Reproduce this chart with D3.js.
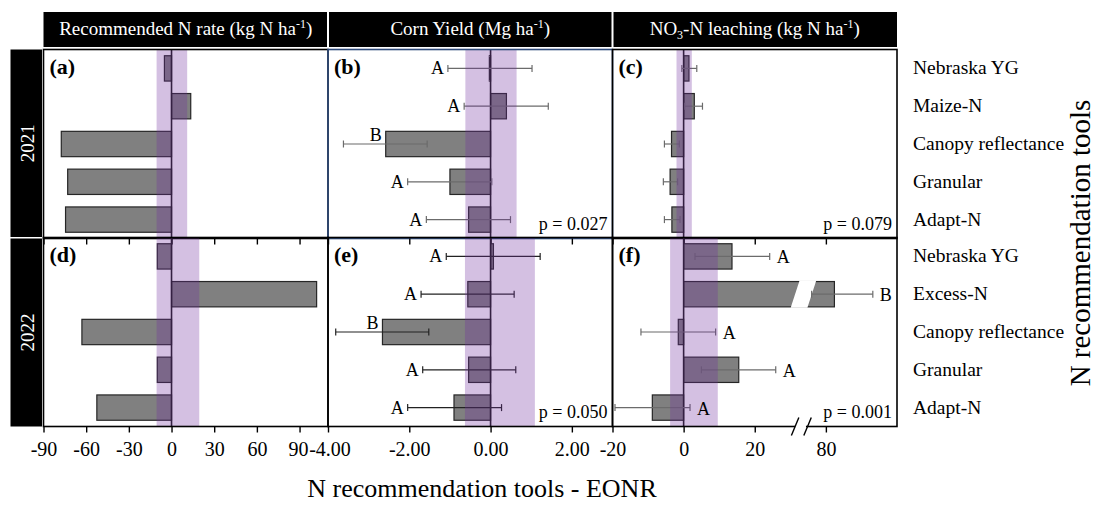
<!DOCTYPE html>
<html>
<head>
<meta charset="utf-8">
<title>N recommendation tools - EONR</title>
<script src="https://d3js.org/d3.v7.min.js"></script>
<style>
  body { margin: 0; background: #fff; }
  svg { font-family: "Liberation Serif", "Times New Roman", serif; }
</style>
</head>
<body>
<svg width="1101" height="508"></svg>
<script>
// categories
const tools2021 = ["Nebraska YG", "Maize-N", "Canopy reflectance", "Granular", "Adapt-N"];
const tools2022 = ["Nebraska YG", "Excess-N", "Canopy reflectance", "Granular", "Adapt-N"];

// recommended N rate - EONR (kg N/ha)
const rate2021 = [-5, 13.5, -77.5, -73, -74.5];
const rate2022 = [-10, 102, -63, -10, -52.5];
const rateBand2021 = [-10.5, 11];
const rateBand2022 = [-10.5, 19.5];

// corn yield difference (Mg/ha) with error bar ends
const yield2021 = [-0.03, 0.39, -2.58, -1.0, -0.54];
const yield2021Lo = [-1.05, -0.65, -3.62, -2.04, -1.58];
const yield2021Hi = [1.02, 1.42, -1.56, 0.03, 0.49];
const yield2022 = [0.07, -0.56, -2.66, -0.54, -0.9];
const yield2022Lo = [-1.09, -1.71, -3.81, -1.67, -2.04];
const yield2022Hi = [1.22, 0.58, -1.52, 0.62, 0.27];
const yieldBand2021 = [-0.62, 0.64];
const yieldBand2022 = [-0.63, 1.09];
const yieldLetters2021 = ["A", "A", "B", "A", "A"];
const yieldLetters2022 = ["A", "A", "B", "A", "A"];

// NO3-N leaching difference (kg N/ha)
const leach2021 = [1.5, 3, -3.4, -3.8, -3.3];
const leach2021Lo = [-0.5, 0.3, -5.4, -5.7, -5.4];
const leach2021Hi = [3.7, 5.3, -1.2, -1.7, -1.0];
const leach2022 = [13.6, 82.4, -1.5, 15.5, -8.8];
const leach2022Lo = [3.2, 76, -12, 5, -19.3];
const leach2022Hi = [24.2, 93.2, 9, 25.9, 1.8];
const leachBand2021 = [-2, 2.3];
const leachBand2022 = [-3.8, 9.6];
const leachLetters2022 = ["A", "B", "A", "A", "A"];

const pValues = { b: "p = 0.027", c: "p = 0.079", e: "p = 0.050", f: "p = 0.001" };

// tick labels
const rateTicks = [-90, -60, -30, 0, 30, 60, 90];
const yieldTicks = [-4, -2, 0, 2];
const leachTicks = [-20, 0, 20, 80];

const svg = d3.select("svg");

const colX = [43.5, 328, 612.5, 897];
const rowTop = [49.5, 237.5];
const rowH = 189;

// leaching axis is broken: values above 50 are moved down by 40
const brk = v => v > 50 ? v - 40 : v;

function makeScale(kind, c) {
  const range = [colX[c], colX[c + 1]];
  if (kind === "rate") return d3.scaleLinear().domain([-90, 110]).range(range);
  if (kind === "yield") return d3.scaleLinear().domain([-4, 3]).range(range);
  return d3.scaleLinear().domain([-20, 60]).range(range);
}

// header
svg.append("rect").attr("x", colX[0]).attr("y", 12).attr("width", colX[3] - colX[0]).attr("height", 35).attr("fill", "#000");
[colX[1], colX[2]].forEach(x => {
  svg.append("line").attr("x1", x).attr("x2", x).attr("y1", 12).attr("y2", 47).attr("stroke", "#fff").attr("stroke-width", 2);
});
const headers = [
  [{ t: "Recommended N rate (kg N ha" }, { t: "-1", sup: true }, { t: ")" }],
  [{ t: "Corn Yield (Mg ha" }, { t: "-1", sup: true }, { t: ")" }],
  [{ t: "NO" }, { t: "3", sub: true }, { t: "-N leaching (kg N ha" }, { t: "-1", sup: true }, { t: ")" }]
];
headers.forEach((parts, i) => {
  const t = svg.append("text")
    .attr("x", (colX[i] + colX[i + 1]) / 2).attr("y", 35)
    .attr("text-anchor", "middle").attr("fill", "#fff").attr("font-size", 19);
  let shift = 0;
  parts.forEach(p => {
    const want = p.sup ? -7 : p.sub ? 4 : 0;
    const s = t.append("tspan").text(p.t).attr("dy", want - shift);
    if (p.sup || p.sub) s.attr("font-size", 12);
    shift = want;
  });
});

// year strips
["2021", "2022"].forEach((yr, r) => {
  const y0 = rowTop[r] + (r ? 1 : 0), y1 = rowTop[r] + rowH - (r ? 0 : 1.5);
  svg.append("rect").attr("x", 10.5).attr("y", y0).attr("width", 31.5).attr("height", y1 - y0).attr("fill", "#000");
  svg.append("text")
    .attr("transform", `translate(27,${(y0 + y1) / 2}) rotate(-90)`)
    .attr("text-anchor", "middle").attr("dominant-baseline", "central")
    .attr("fill", "#fff").attr("font-size", 19).text(yr);
});

const panels = [
  { id: "a", kind: "rate", r: 0, c: 0, tools: tools2021, vals: rate2021, band: rateBand2021 },
  { id: "b", kind: "yield", r: 0, c: 1, tools: tools2021, vals: yield2021, lo: yield2021Lo, hi: yield2021Hi, band: yieldBand2021, letters: yieldLetters2021, errColor: "#6b6b6b", border: "#2e4a7a" },
  { id: "c", kind: "leach", r: 0, c: 2, tools: tools2021, vals: leach2021, lo: leach2021Lo, hi: leach2021Hi, band: leachBand2021, errColor: "#6b6b6b" },
  { id: "d", kind: "rate", r: 1, c: 0, tools: tools2022, vals: rate2022, band: rateBand2022 },
  { id: "e", kind: "yield", r: 1, c: 1, tools: tools2022, vals: yield2022, lo: yield2022Lo, hi: yield2022Hi, band: yieldBand2022, letters: yieldLetters2022, errColor: "#222" },
  { id: "f", kind: "leach", r: 1, c: 2, tools: tools2022, vals: leach2022, lo: leach2022Lo, hi: leach2022Hi, band: leachBand2022, letters: leachLetters2022, errColor: "#6b6b6b" }
];

panels.forEach(p => {
  const g = svg.append("g");
  const top = rowTop[p.r], bottom = top + rowH;
  const lin = makeScale(p.kind, p.c);
  const x = p.kind === "leach" ? (v => lin(brk(v))) : lin;
  const y = d3.scaleBand().domain(p.tools).range([top, bottom]).paddingInner(0.33).paddingOuter(0.165);
  const rows = p.tools.map((t, i) => ({
    tool: t, v: p.vals[i],
    lo: p.lo ? p.lo[i] : null, hi: p.hi ? p.hi[i] : null,
    letter: p.letters ? p.letters[i] : null
  }));

  // bars
  g.selectAll("rect.bar").data(rows).join("rect")
    .attr("class", "bar")
    .attr("x", d => Math.min(x(0), x(d.v)))
    .attr("y", d => y(d.tool))
    .attr("width", d => Math.abs(x(d.v) - x(0)))
    .attr("height", y.bandwidth())
    .attr("fill", "#808080").attr("stroke", "#262626").attr("stroke-width", 1.2);

  // white break through the long bar
  if (p.kind === "leach") {
    rows.filter(d => d.v > 50).forEach(d => {
      const yt = y(d.tool) - 1, yb = y(d.tool) + y.bandwidth() + 1;
      g.append("polygon")
        .attr("points", [[lin(32.6), yt], [lin(37.3), yt], [lin(34.8), yb], [lin(30.1), yb]].join(" "))
        .attr("fill", "#fff");
    });
  }

  // zero line
  g.append("line").attr("x1", x(0)).attr("x2", x(0)).attr("y1", top).attr("y2", bottom)
    .attr("stroke", "#1a1a1a").attr("stroke-width", 1.6);

  // error bars
  if (p.lo) {
    const eg = g.append("g").attr("stroke", p.errColor).attr("stroke-width", 1.2);
    rows.forEach(d => {
      const cy = y(d.tool) + y.bandwidth() / 2;
      eg.append("line").attr("x1", x(d.lo)).attr("x2", x(d.hi)).attr("y1", cy).attr("y2", cy);
      [d.lo, d.hi].forEach(v => {
        eg.append("line").attr("x1", x(v)).attr("x2", x(v)).attr("y1", cy - 3.5).attr("y2", cy + 3.5);
      });
    });
  }

  // EONR band
  g.append("rect")
    .attr("x", x(p.band[0])).attr("y", top)
    .attr("width", x(p.band[1]) - x(p.band[0])).attr("height", rowH)
    .attr("fill", "#7030a0").attr("fill-opacity", 0.3);

  // significance letters
  if (p.letters) {
    rows.forEach(d => {
      const cy = y(d.tool) + y.bandwidth() / 2;
      const t = g.append("text").attr("font-size", 18).attr("fill", "#000").text(d.letter);
      if (p.kind === "leach") {
        t.attr("x", x(d.hi) + 7).attr("y", cy + 7);
      } else if (d.letter === "B") {
        t.attr("x", x(d.v) - 4).attr("y", cy - 3).attr("text-anchor", "end");
      } else {
        t.attr("x", x(d.lo) - 4).attr("y", cy + 6).attr("text-anchor", "end");
      }
    });
  }

  // p value
  if (pValues[p.id]) {
    g.append("text").attr("x", colX[p.c + 1] - 5).attr("y", bottom - 9)
      .attr("text-anchor", "end").attr("font-size", 18).text(pValues[p.id]);
  }

  // panel letter
  g.append("text").attr("x", colX[p.c] + 6).attr("y", top + 24)
    .attr("font-size", 22).attr("font-weight", "bold").text(`(${p.id})`);

  // border
  g.append("rect").attr("x", colX[p.c]).attr("y", top)
    .attr("width", colX[p.c + 1] - colX[p.c]).attr("height", rowH)
    .attr("fill", "none").attr("stroke", p.border || "#000").attr("stroke-width", 1.6);

  // axis ticks (labels only on the bottom row)
  let axis = d3.axisBottom(lin).tickSizeInner(6).tickSizeOuter(0).tickPadding(9);
  if (p.kind === "rate") axis.tickValues(rateTicks).tickFormat(d => String(d));
  if (p.kind === "yield") axis.tickValues(yieldTicks).tickFormat(d => d.toFixed(2));
  if (p.kind === "leach") axis.tickValues(leachTicks.map(brk)).tickFormat((d, i) => String(leachTicks[i]));
  if (p.r === 0) axis.tickFormat("");
  const ag = g.append("g").attr("transform", `translate(0,${bottom})`).call(axis);
  ag.select(".domain").remove();
  ag.selectAll(".tick line").attr("stroke", "#000").attr("stroke-width", 1.4);
  ag.selectAll(".tick text").attr("font-size", 20).attr("font-family", "Liberation Serif").attr("fill", "#000");
  // the last label of (d) and the first of (e) sit edge to edge
  if (p.kind === "rate") ag.selectAll(".tick text").filter(d => d === 90).attr("dx", -1.5);
  if (p.kind === "yield") ag.selectAll(".tick text").filter(d => d === -4).attr("dx", 1.5);

  // broken axis marks
  if (p.kind === "leach" && p.r === 1) {
    g.append("rect").attr("x", lin(31.4)).attr("y", bottom - 2).attr("width", lin(34.4) - lin(31.4)).attr("height", 4).attr("fill", "#fff");
    [30.3, 33.8].forEach(v => {
      g.append("line").attr("x1", lin(v)).attr("y1", bottom + 9).attr("x2", lin(v + 2.1)).attr("y2", bottom - 9)
        .attr("stroke", "#000").attr("stroke-width", 1.4);
    });
  }
});

// category labels at right
[tools2021, tools2022].forEach((tools, r) => {
  const y = d3.scaleBand().domain(tools).range([rowTop[r], rowTop[r] + rowH]).paddingInner(0.33).paddingOuter(0.165);
  svg.append("g").selectAll("text").data(tools).join("text")
    .attr("x", 913).attr("y", d => y(d) + y.bandwidth() / 2 + 6)
    .attr("font-size", 19.5).text(d => d);
});

// axis titles
svg.append("text").attr("x", 482).attr("y", 497).attr("text-anchor", "middle")
  .attr("font-size", 26).text("N recommendation tools - EONR");
svg.append("text").attr("transform", "translate(1080,243) rotate(-90)")
  .attr("text-anchor", "middle").attr("dominant-baseline", "central")
  .attr("font-size", 29).text("N recommendation tools");
</script>
</body>
</html>
